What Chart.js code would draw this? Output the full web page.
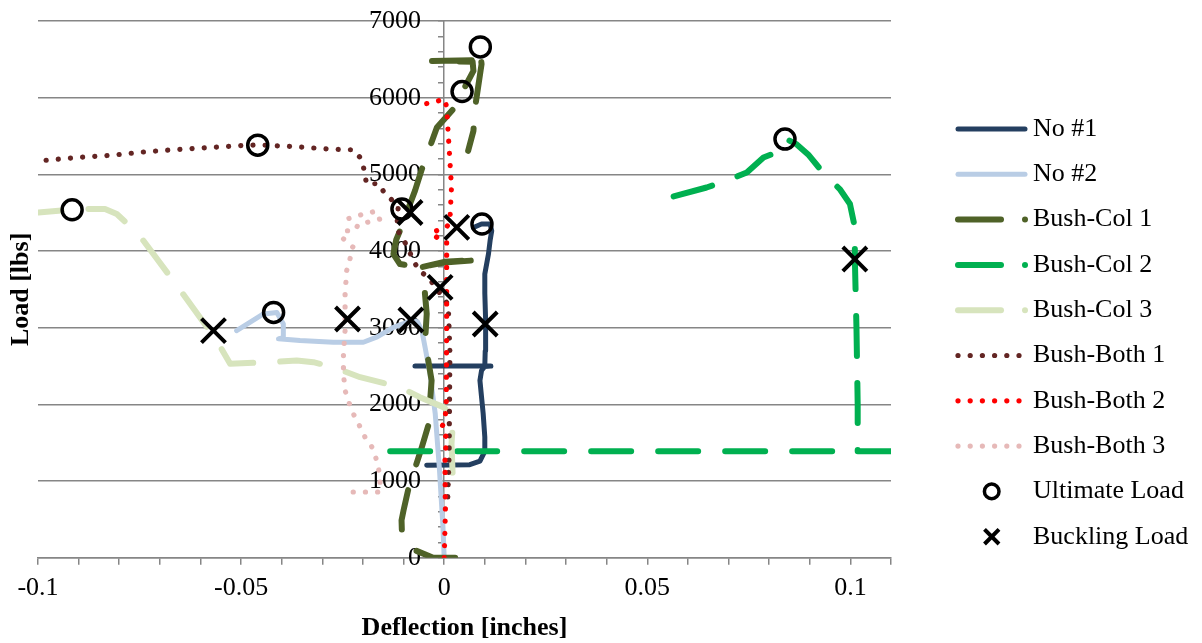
<!DOCTYPE html>
<html lang="en">
<head>
<meta charset="UTF-8">
<title>Load vs Deflection</title>
<script src="https://cdn.jsdelivr.net/npm/chart.js@4"></script>
<style>
  html, body { margin: 0; padding: 0; background: #fff; }
  #wrap { width: 1202px; height: 643px; }
</style>
</head>
<body>
<div id="wrap"><canvas id="loadChart"></canvas></div>
<script>
// values: [deflection (in), load (lbs)]
const no1 = [[-0.0043, 1206], [0.0063, 1215], [0.0088, 1260], [0.0099, 1379], [0.0100, 1574], [0.0096, 1879],
  [0.0092, 2095], [0.0088, 2312], [0.0092, 2443], [0.0100, 2495], [0.0115, 2500], [-0.0072, 2500], [0.0100, 2505],
  [0.0101, 2700], [0.0102, 3100], [0.0100, 3450], [0.0100, 3700], [0.0109, 3962], [0.0113, 4135], [0.0117, 4265],
  [0.0113, 4353], [0.0092, 4353], [0.0072, 4308]];
const no2 = [[0.0000, 0], [-0.0003, 400], [-0.0012, 1180], [-0.0022, 1876], [-0.0035, 2400], [-0.0047, 2744],
  [-0.0055, 2963], [-0.0066, 3080], [-0.0080, 3094], [-0.0125, 3006], [-0.0165, 2880], [-0.0199, 2811],
  [-0.0273, 2811], [-0.0355, 2833], [-0.0408, 2855], [-0.0396, 2870], [-0.0396, 3050], [-0.0412, 3200],
  [-0.0445, 3180], [-0.0511, 2963]];
const bushCol1 = [[0.0027, 0], [-0.0027, 0], [-0.0072, 99], [-0.0085, 186], [-0.0104, 316], [-0.0105, 490],
  [-0.0100, 620], [-0.0088, 902], [-0.0055, 1444], [-0.0039, 1727], [-0.0031, 2313], [-0.0040, 2600],
  [-0.0047, 2833], [-0.0043, 3181], [-0.0048, 3484], [-0.0052, 3650], [-0.0055, 3790], [0.0000, 3860],
  [0.0088, 3884], [0.0000, 3850], [-0.0060, 3787], [-0.0109, 3831], [-0.0125, 3961], [-0.0118, 4150],
  [-0.0109, 4264], [-0.0072, 4785], [-0.0055, 5068], [-0.0018, 5610], [0.0022, 5850], [0.0072, 6349],
  [0.0070, 6470], [-0.0030, 6480], [0.0070, 6490], [0.0088, 6632], [0.0092, 6437], [0.0076, 5871],
  [0.0072, 5567], [0.0059, 5307]];
const bushCol2 = [[-0.0133, 1389], [0.1150, 1389], [0.1018, 1389], [0.1018, 2000], [0.1015, 3000],
  [0.1011, 3900], [0.1011, 4308], [0.0999, 4613], [0.0975, 4800], [0.0929, 5047], [0.0896, 5260],
  [0.0868, 5390], [0.0843, 5460], [0.0825, 5300], [0.0786, 5220], [0.0745, 5025], [0.0696, 4917],
  [0.0646, 4829], [0.0556, 4699]];
const bushCol3 = [[-0.1040, 4470], [-0.0999, 4503], [-0.0897, 4548], [-0.0835, 4548], [-0.0806, 4483],
  [-0.0753, 4223], [-0.0716, 3962], [-0.0655, 3527], [-0.0560, 2833], [-0.0527, 2530], [-0.0429, 2551],
  [-0.0363, 2573], [-0.0322, 2551], [-0.0273, 2486], [-0.0207, 2355], [-0.0109, 2225], [-0.0060, 2095],
  [-0.0002, 1965], [0.0018, 1879], [0.0022, 1792], [0.0018, 1488], [0.0022, 923]];
const bushBoth1 = [[-0.1010, 5170], [-0.0995, 5177], [-0.0905, 5220], [-0.0815, 5251], [-0.0729, 5298],
  [-0.0642, 5329], [-0.0552, 5359], [-0.0462, 5385], [-0.0372, 5363], [-0.0281, 5329], [-0.0224, 5320],
  [-0.0207, 5220], [-0.0199, 5103], [-0.0191, 4873], [-0.0162, 4880], [-0.0146, 4750], [-0.0113, 4590],
  [-0.0117, 4287], [-0.0101, 4157], [-0.0088, 4026], [-0.0076, 3874], [-0.0061, 3743], [-0.0039, 3656],
  [-0.0015, 3483], [0.0010, 3300], [0.0014, 2700], [0.0013, 2000], [0.0012, 1300], [0.0008, 660]];
const bushBoth2 = [[0.0000, 0], [0.0003, 600], [0.0002, 1300], [0.0006, 1575], [-0.0002, 1618],
  [-0.0006, 1705], [0.0002, 1792], [0.0005, 2000], [0.0006, 3000], [0.0006, 3900], [0.0006, 4120],
  [-0.0018, 4178], [-0.0031, 4243], [0.0006, 4308], [0.0014, 4395], [0.0016, 4613], [0.0018, 4829],
  [0.0014, 5177], [0.0010, 5525], [0.0006, 5871], [0.0002, 5980], [-0.0015, 5958], [-0.0027, 5936],
  [-0.0055, 5915]];
const bushBoth3 = [[-0.0224, 858], [-0.0158, 858], [-0.0158, 1010], [-0.0162, 1184], [-0.0170, 1336],
  [-0.0178, 1444], [-0.0195, 1574], [-0.0211, 1749], [-0.0228, 1922], [-0.0244, 2182], [-0.0248, 2400],
  [-0.0248, 2660], [-0.0244, 2963], [-0.0244, 3441], [-0.0240, 3745], [-0.0232, 3897], [-0.0224, 4048],
  [-0.0252, 4178], [-0.0244, 4265], [-0.0220, 4265], [-0.0211, 4353], [-0.0191, 4373], [-0.0158, 4418],
  [-0.0170, 4517], [-0.0199, 4483], [-0.0224, 4439], [-0.0256, 4396]];
const ultimateLoad = [[-0.0916, 4538], [-0.0459, 5381], [-0.0104, 4547], [-0.0420, 3200], [0.0044, 6080],
  [0.0089, 6662], [0.0093, 4352], [0.0839, 5460]];
const bucklingLoad = [[-0.0568, 2962], [-0.0238, 3114], [-0.0082, 3101], [-0.0084, 4503], [0.0031, 4308],
  [-0.0010, 3527], [0.0101, 3049], [0.1011, 3896]];

const seriesNames = ['No #1', 'No #2', 'Bush-Col 1', 'Bush-Col 2', 'Bush-Col 3',
  'Bush-Both 1', 'Bush-Both 2', 'Bush-Both 3', 'Ultimate Load', 'Buckling Load'];
const seriesColors = ['#243F60', '#B9CDE5', '#4F6228', '#00B050', '#D7E4BD',
  '#632523', '#FF0000', '#E6B9B8', '#000000', '#000000'];
const xLabelTicks = [-0.1, -0.05, 0, 0.05, 0.1];
const yLabelTicks = [0, 1000, 2000, 3000, 4000, 5000, 6000, 7000];

const AXIS_GRAY = '#868686';
const SERIF = '"Liberation Serif", "Times New Roman", serif';

const toXY = arr => arr.map(p => ({ x: p[0], y: p[1] }));

// line kind per series: solid, long dash, round dot
const kinds = ['solid', 'solid', 'dash', 'dash', 'dash', 'dot', 'dot', 'dot', 'circle', 'cross'];
const values = [no1, no2, bushCol1, bushCol2, bushCol3, bushBoth1, bushBoth2, bushBoth3, ultimateLoad, bucklingLoad];

const datasets = values.map((v, i) => {
  const kind = kinds[i];
  const ds = {
    label: seriesNames[i],
    data: toXY(v),
    kind: kind,
    borderColor: seriesColors[i],
    backgroundColor: seriesColors[i],
    order: values.length - i
  };
  if (kind === 'circle' || kind === 'cross') {
    ds.showLine = false;
    ds.pointStyle = kind === 'circle' ? 'circle' : 'crossRot';
    ds.pointRadius = kind === 'circle' ? 10 : 17;
    ds.pointBorderWidth = kind === 'circle' ? 3.5 : 4;
    ds.pointBackgroundColor = 'rgba(0,0,0,0)';
    ds.pointBorderColor = '#000';
  } else {
    ds.showLine = true;
    ds.pointRadius = 0;
    ds.tension = 0;
    ds.borderCapStyle = 'round';
    ds.borderJoinStyle = 'round';
    if (kind === 'solid') {
      ds.borderWidth = 5;
    } else if (kind === 'dash') {
      ds.borderWidth = 6;
      ds.borderDash = [40, 27];
    } else {
      ds.borderWidth = 5.2;
      ds.borderDash = [0.1, 12.1];
    }
  }
  return ds;
});

// axis titles and the legend on the right
const extrasPlugin = {
  id: 'extras',
  afterDraw(chart) {
    const ctx = chart.ctx;
    const area = chart.chartArea;
    ctx.save();
    ctx.fillStyle = '#000';
    ctx.font = 'bold 26px ' + SERIF;
    ctx.textAlign = 'center';
    ctx.textBaseline = 'middle';
    ctx.fillText('Deflection [inches]', (area.left + area.right) / 2, 628);
    ctx.translate(21, (area.top + area.bottom) / 2);
    ctx.rotate(-Math.PI / 2);
    ctx.fillText('Load [lbs]', 0, 0);
    ctx.restore();

    const x0 = 958, x1 = 1025, textX = 1033, top = 129, step = 45.3;
    chart.data.datasets.forEach((ds, i) => {
      const y = top + i * step;
      ctx.save();
      ctx.strokeStyle = ds.borderColor;
      ctx.fillStyle = ds.borderColor;
      ctx.lineCap = 'round';
      if (ds.kind === 'solid') {
        ctx.lineWidth = 5;
        ctx.beginPath(); ctx.moveTo(x0, y); ctx.lineTo(x1, y); ctx.stroke();
      } else if (ds.kind === 'dash') {
        ctx.lineWidth = 6;
        ctx.beginPath(); ctx.moveTo(x0, y); ctx.lineTo(1001, y); ctx.stroke();
        ctx.beginPath(); ctx.arc(1025, y, 3, 0, Math.PI * 2); ctx.fill();
      } else if (ds.kind === 'dot') {
        for (let k = 0; k < 6; k++) {
          ctx.beginPath(); ctx.arc(x0 + k * 12.2, y, 2.6, 0, Math.PI * 2); ctx.fill();
        }
      } else if (ds.kind === 'circle') {
        ctx.lineWidth = 3.5;
        ctx.beginPath(); ctx.arc(991.7, y, 7.3, 0, Math.PI * 2); ctx.stroke();
      } else {
        ctx.lineWidth = 4;
        ctx.lineCap = 'butt';
        ctx.beginPath();
        ctx.moveTo(984.5, y - 7.3); ctx.lineTo(999, y + 7.3);
        ctx.moveTo(999, y - 7.3); ctx.lineTo(984.5, y + 7.3);
        ctx.stroke();
      }
      ctx.fillStyle = '#000';
      ctx.font = '26px ' + SERIF;
      ctx.textAlign = 'left';
      ctx.textBaseline = 'middle';
      ctx.fillText(ds.label, textX, y);
      ctx.restore();
    });
  }
};

const tickFont = { family: SERIF, size: 26 };
const yRange = { min: 0, max: 7000 };

new Chart(document.getElementById('loadChart'), {
  type: 'scatter',
  data: { datasets: datasets },
  options: {
    responsive: true,
    maintainAspectRatio: false,
    animation: false,
    layout: { padding: { left: 38, right: 311, top: 7, bottom: 31 } },
    plugins: {
      legend: { display: false },
      tooltip: { enabled: false }
    },
    scales: {
      x: {
        type: 'linear',
        position: 'bottom',
        min: -0.1,
        max: 0.11,
        ticks: {
          stepSize: 0.01,
          autoSkip: false,
          maxRotation: 0,
          padding: 8,
          color: '#000',
          font: tickFont,
          callback: v => {
            const t = xLabelTicks.find(k => Math.abs(k - v) < 1e-9);
            return t === undefined ? '' : String(t);
          }
        },
        grid: { drawOnChartArea: false, color: AXIS_GRAY, tickLength: 7, lineWidth: 1.5 },
        border: { color: AXIS_GRAY, width: 1.5 },
        title: { display: false }
      },
      // value axis crossing at x = 0: line, gridlines and tick marks
      y: {
        type: 'linear',
        position: { x: 0 },
        min: yRange.min,
        max: yRange.max,
        ticks: { stepSize: 200, autoSkip: false, display: false },
        grid: {
          color: c => (c.tick && yLabelTicks.includes(c.tick.value)) ? AXIS_GRAY : 'rgba(0,0,0,0)',
          tickColor: AXIS_GRAY,
          tickLength: 5,
          lineWidth: 1.5
        },
        border: { color: AXIS_GRAY, width: 1.5 }
      },
      // same value axis, only its labels, set a little left of x = 0
      yLabels: {
        type: 'linear',
        axis: 'y',
        position: { x: -0.0057 },
        min: yRange.min,
        max: yRange.max,
        ticks: {
          stepSize: 1000,
          autoSkip: false,
          padding: 0,
          color: '#000',
          font: tickFont,
          callback: v => yLabelTicks.includes(v) ? String(v) : ''
        },
        grid: { display: false, drawTicks: false },
        border: { display: false }
      }
    }
  },
  plugins: [extrasPlugin]
});
</script>
</body>
</html>
